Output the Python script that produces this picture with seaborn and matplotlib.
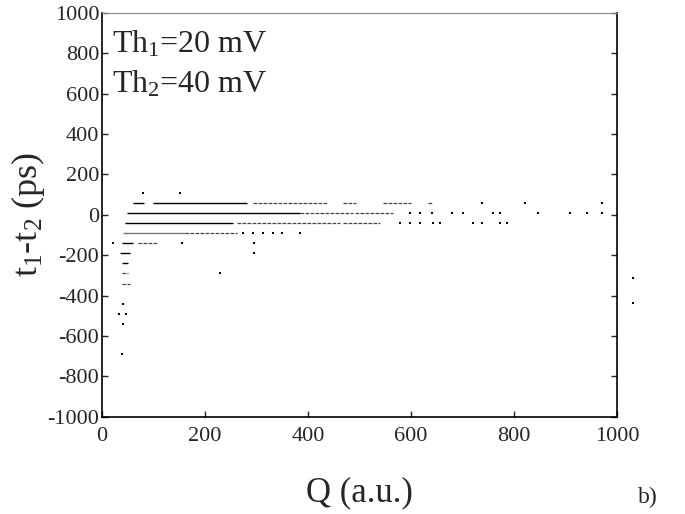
import matplotlib
matplotlib.use("Agg")
import matplotlib.pyplot as plt
import seaborn as sns
import pandas as pd

# time difference rows (ps) and charge ranges (a.u.)
solid_t = [60, 60, 10, -40, -90, -140, -190, -240]
solid_q0 = [60, 99, 48, 45, 41, 38, 35, 39]
solid_q1 = [82, 282, 385, 255, 161, 61, 54, 51]
solid_gray = [False, False, False, False, True, False, False, False]

broken_t = [60, 60, 60, 60, 10, 10, -40, -40, -90, -140, -290, -340]
broken_q0 = [293, 468, 546, 632, 385, 491, 262, 468, 161, 70, 38, 39]
broken_q1 = [437, 492, 599, 643, 488, 565, 462, 540, 262, 109, 51, 54]

dot_t = [110, 110, 60, 60, 60,
         10, 10, 10, 10, 10, 10, 10, 10, 10, 10, 10,
         -40, -40, -40, -40, -40, -40, -40, -40, -40,
         -90, -90, -90, -90, -90, -90,
         -140, -140, -140, -190, -290,
         -440, -490, -490, -540, -690,
         -313, -437]
dot_q = [80, 152, 738, 821, 971,
         598, 618, 641, 680, 701, 758, 773, 847, 909, 942, 971,
         579, 598, 618, 643, 657, 721, 738, 773, 786,
         274, 293, 313, 332, 349, 385,
         22, 155, 294, 294, 229,
         41, 33, 46, 41, 38,
         1031, 1031]

x_ticks = [0, 200, 400, 600, 800, 1000]
y_ticks = [-1000, -800, -600, -400, -200, 0, 200, 400, 600, 800, 1000]

sns.set_style("ticks")
plt.rcParams['font.family'] = ['Liberation Serif', 'DejaVu Serif']
plt.rcParams['mathtext.fontset'] = 'custom'
plt.rcParams['mathtext.rm'] = 'Liberation Serif'
plt.rcParams['mathtext.it'] = 'Liberation Serif'
plt.rcParams['axes.unicode_minus'] = False

fig = plt.figure(figsize=(6.85, 5.14), dpi=100)
ax = fig.add_axes([0.149, 0.189, 0.752, 0.786])

for t, q0, q1, g in zip(solid_t, solid_q0, solid_q1, solid_gray):
    ax.hlines(t, q0, q1, color='#777777' if g else 'black', lw=1.0)
ax.hlines(broken_t, broken_q0, broken_q1, color='#444444', lw=0.9,
          linestyles=(0, (3.0, 1.0)))

dots = pd.DataFrame({'Q': dot_q, 't': dot_t})
sns.scatterplot(data=dots, x='Q', y='t', ax=ax, marker='s', s=1,
                color='black', edgecolor=None, linewidth=0, clip_on=False)

ax.set_xlim(0, 1000)
ax.set_ylim(-1000, 1000)
ax.set_xticks(x_ticks)
ax.set_yticks(y_ticks)
ax.tick_params(direction='in', length=4, width=1, labelsize=16, right=True, pad=2)
ax.tick_params(axis='x', pad=7)
ax.tick_params(axis='y', labelright=False)
for s in ['left', 'bottom', 'right']:
    ax.spines[s].set_linewidth(1.2)
    ax.spines[s].set_color('black')
ax.spines['top'].set_color('#888888')

ax.set_xlabel('Q (a.u.)', fontsize=25, labelpad=22)
ax.set_ylabel(r'$\mathregular{t_1}$-$\mathregular{t_2}$ (ps)', fontsize=26, labelpad=0)

ax.text(0.02, 0.96, r'Th$_\mathregular{1}$=20 mV', transform=ax.transAxes,
        fontsize=23, va='top', ha='left')
ax.text(0.02, 0.86, r'Th$_\mathregular{2}$=40 mV', transform=ax.transAxes,
        fontsize=23, va='top', ha='left')
fig.text(0.946, 0.033, 'b)', fontsize=17, ha='center', va='center')

fig.savefig('out.png', dpi=100)
